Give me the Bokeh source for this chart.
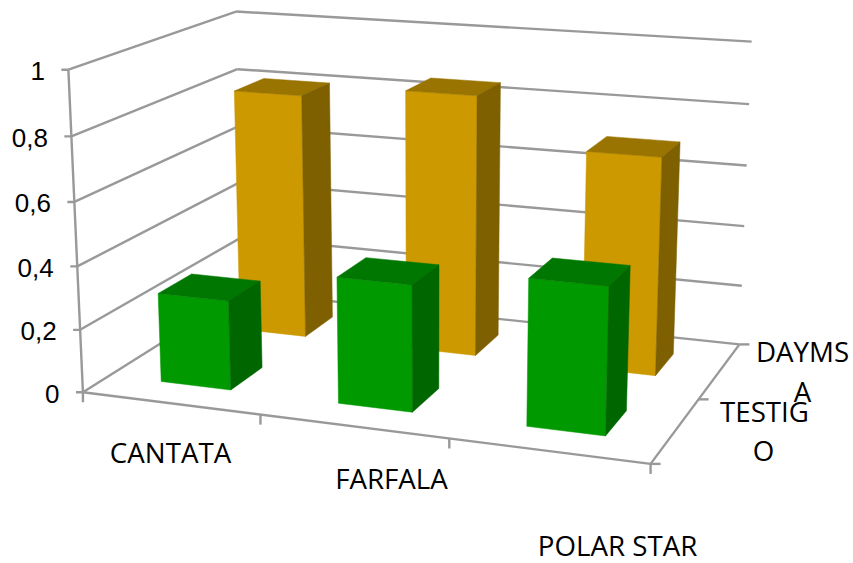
import numpy as np
from bokeh.plotting import figure
from bokeh.models import Range1d, ColumnDataSource
from bokeh.core.properties import value
from bokeh.embed import file_html
from bokeh.resources import INLINE

categories = ["CANTATA", "FARFALA", "POLAR STAR"]
series_lines = ["DAYMS", "A", "TESTIG", "O"]
daymsa = [0.81, 0.85, 0.70]
testigo = [0.285, 0.395, 0.45]
value_ticks = [0, 0.2, 0.4, 0.6, 0.8, 1]
value_labels = ["0", "0,2", "0,4", "0,6", "0,8", "1"]
n_series = 2

GRID = "#999999"
COLORS = {
    "daymsa": ("#CC9900", "#9A7400", "#7F6000"),
    "testigo": ("#009900", "#007700", "#006600"),
}

# Camera calibration: (category, depth, value) -> page pixel
cal_in = [(0, 0, 0), (1, 0, 0), (0, 1, 0), (1, 1, 0), (0, 0, 1), (0, 1, 1), (1, 1, 1),
          (0, 0, .8), (0, 0, .6), (0, 0, .4), (0, 0, .2),
          (1, 1, .8), (1, 1, .6), (1, 1, .4), (1, 1, .2),
          (0, 1, .8)]
cal_out = [(82, 393), (650, 464), (243, 292), (738, 343), (68, 71), (235, 11), (751, 41),
           (71, 135), (74, 201), (77, 264), (79.5, 329),
           (749, 104), (746.5, 165), (744, 226), (741.5, 285),
           (236.5, 68.5)]
A, B = [], []
for (u, v, z), (x, y) in zip(cal_in, cal_out):
    A.append([u, v, z, 1, 0, 0, 0, 0, -x * u, -x * v, -x * z]); B.append(x)
    A.append([0, 0, 0, 0, u, v, z, 1, -y * u, -y * v, -y * z]); B.append(y)
m = np.linalg.lstsq(np.array(A, float), np.array(B, float), rcond=None)[0]
P = np.array([m[:4], m[4:8], [m[8], m[9], m[10], 1.0]])


def proj(u, v, z):
    q = P @ np.array([u, v, z, 1.0])
    return q[0] / q[2], q[1] / q[2]


def quad(points):
    pts = [proj(*pt) for pt in points]
    return [a for a, _ in pts], [b for _, b in pts]


p = figure(width=853, height=563, x_range=Range1d(0, 853), y_range=Range1d(563, 0),
           output_backend="svg", toolbar_location=None, min_border=0,
           x_axis_type=None, y_axis_type=None, outline_line_color=None,
           background_fill_color="white", border_fill_color="white")
p.grid.visible = False

# Walls and floor lines
xs0, ys0, xs1, ys1 = [], [], [], []


def seg(a, b):
    xs0.append(a[0]); ys0.append(a[1]); xs1.append(b[0]); ys1.append(b[1])


for t in value_ticks:
    seg(proj(0, 0, t), proj(0, 1, t))
    seg(proj(0, 1, t), proj(1, 1, t))
    a = proj(0, 0, t)
    seg(a, (a[0] - 7, a[1]))
seg(proj(0, 0, 0), proj(0, 0, 1))
seg(proj(0, 0, 0), proj(1, 0, 0))
seg(proj(1, 0, 0), proj(1, 1, 0))
for k in range(len(categories) + 1):
    a = proj(k / len(categories), 0, 0)
    seg(a, (a[0], a[1] + 10))
for k in range(n_series + 1):
    a = proj(1, k / n_series, 0)
    seg(a, (a[0] + 10, a[1]))
p.segment(xs0, ys0, xs1, ys1, line_color=GRID, line_width=2.4)

# Bars, back row first
HALF_W = 1 / 15
HALF_D = 0.1
for row, (vals, key) in enumerate(((daymsa, "daymsa"), (testigo, "testigo"))):
    vc = 0.75 - 0.5 * row
    fx, fy, fc = [], [], []
    front, top, side = COLORS[key]
    for i, val in enumerate(vals):
        uc = (i + 0.5) / len(vals)
        u0, u1 = uc - HALF_W, uc + HALF_W
        v0, v1 = vc - HALF_D, vc + HALF_D
        faces = [
            ([(u0, v0, 0), (u1, v0, 0), (u1, v0, val), (u0, v0, val)], front),
            ([(u0, v0, val), (u1, v0, val), (u1, v1, val), (u0, v1, val)], top),
            ([(u1, v0, 0), (u1, v1, 0), (u1, v1, val), (u1, v0, val)], side),
        ]
        for pts, col in faces:
            x, y = quad(pts)
            fx.append(x); fy.append(y); fc.append(col)
    p.patches("x", "y", fill_color="c", line_color="c", line_width=0.5,
              source=ColumnDataSource(dict(x=fx, y=fy, c=fc)))

# Value labels
lx, ly = [], []
for t in value_ticks:
    a = proj(0, 0, t)
    lx.append(a[0] - 23.5)
    ly.append(a[1] + 1.5)
p.text(lx, ly, text=value_labels, text_font=value("Liberation Sans"), text_font_size="26px",
       text_color="#000000", text_align="right", text_baseline="middle")

# Category labels
cat_x = [170, 391, 617]
cat_y = [451, 477, 544]
p.text(cat_x, cat_y, text=categories, text_font=value("Open Sans"), text_font_size="27.7px",
       text_color="#000000", text_align="center", text_baseline="middle")

# Series labels, wrapped as in the picture
ser_x = [802, 802, 764, 763]
ser_y = [350, 390, 410, 449]
p.text(ser_x, ser_y, text=series_lines, text_font=value("Open Sans"), text_font_size="27.7px",
       text_color="#000000", text_align="center", text_baseline="middle")

open("out.html", "w").write(file_html(p, INLINE))
